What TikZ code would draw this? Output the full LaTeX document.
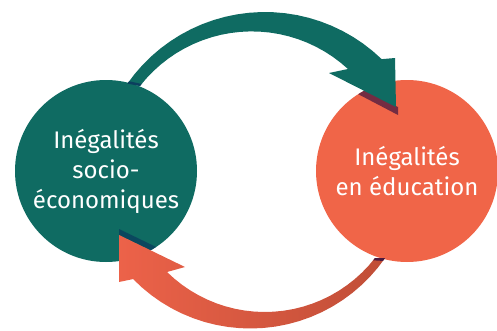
\documentclass[tikz,border=0pt]{standalone}
\usepackage{fontspec}
\setmainfont{Fira Sans}
\definecolor{socteal}{HTML}{0F6B62}
\definecolor{eduorange}{HTML}{F06548}
\definecolor{arrowlight}{HTML}{EC6249}
\definecolor{arrowdark}{HTML}{C04E37}
\definecolor{shadeblue}{HTML}{0B3F5E}
\definecolor{shadepurple}{HTML}{4A1A40}
\begin{document}
\begin{tikzpicture}[x=1pt,y=1pt,
    bubble/.style={circle,minimum size=182pt,inner sep=0pt,text=white,
      align=center,font=\fontsize{24}{30}\selectfont}]
  \useasboundingbox (0,0) rectangle (497,330);
  \node[bubble,fill=socteal] (soc) at (106,159) {Inégalités\\socio-\\économiques};
  \node[bubble,fill=eduorange] (edu) at (407,159) {Inégalités\\en éducation};
  \begin{scope}
    \clip (edu.center) circle (91);
    \fill[shadepurple,opacity=.75] (398,223) -- (329,257) -- (333,249) -- (398,215) -- cycle;
  \end{scope}
  \begin{scope}
    \clip (soc.center) circle (91);
    \fill[shadeblue,opacity=.8] (119,95) -- (185,63) -- (181,71) -- (119,101) -- cycle;
  \end{scope}
  \fill[socteal]
    plot[domain=145:46,variable=\t] ({265+168*cos(\t)},{150+168*sin(\t)})
    -- (395,272) -- (396,223) -- (329,257)
    -- plot[domain=47.3:142.05,variable=\t] ({251.8+141.8*cos(\t)},{156.8+141.8*sin(\t)})
    -- cycle;
  \fill[shadeblue]
    ({265+168*cos(145)},{150+168*sin(145)}) -- ({265+168*cos(144)},{150+168*sin(144)})
    -- ({251.8+141.8*cos(141)},{156.8+141.8*sin(141)}) -- ({251.8+141.8*cos(142.05)},{156.8+141.8*sin(142.05)}) -- cycle;
  \shade[left color=arrowlight,right color=arrowdark]
    plot[domain=-37.8:-134.5,variable=\t] ({264.8+139.5*cos(\t)},{157.5+139.5*sin(\t)})
    -- (185,63) -- (119,95) -- (119,48)
    -- plot[domain=-135.7:-34.8,variable=\t] ({250.4+163.9*cos(\t)},{165.4+163.9*sin(\t)})
    -- cycle;
  \fill[shadepurple]
    ({264.8+139.5*cos(-37.8)},{157.5+139.5*sin(-37.8)}) -- ({264.8+139.5*cos(-39)},{157.5+139.5*sin(-39)})
    -- ({250.4+163.9*cos(-36)},{165.4+163.9*sin(-36)}) -- ({250.4+163.9*cos(-34.8)},{165.4+163.9*sin(-34.8)}) -- cycle;
\end{tikzpicture}
\end{document}
